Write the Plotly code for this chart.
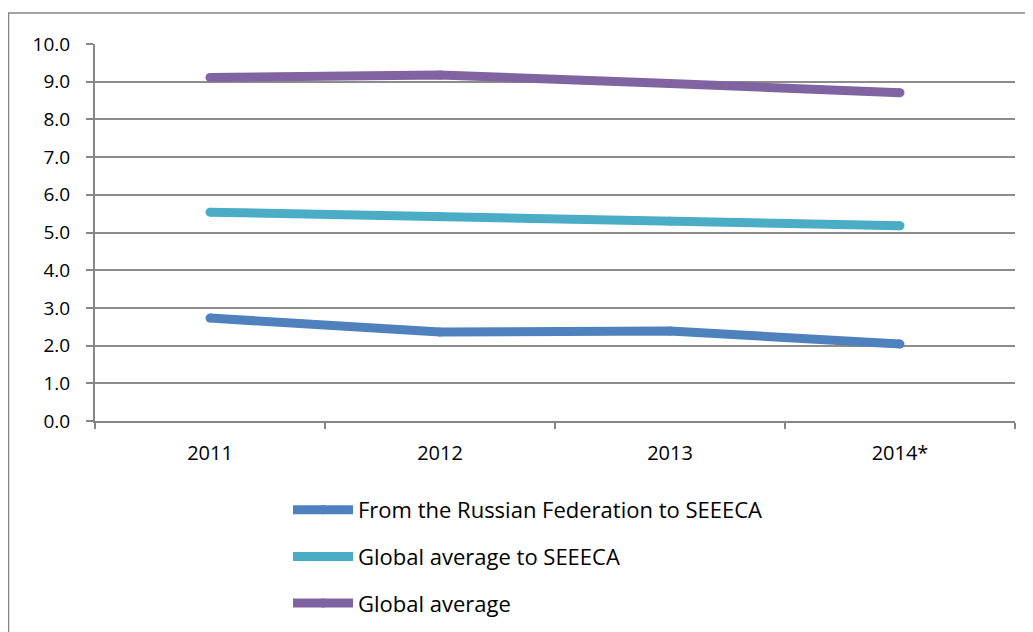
import plotly.graph_objects as go

categories = ["2011", "2012", "2013", "2014*"]
russia_to_seeeca = [2.73, 2.36, 2.39, 2.04]
global_to_seeeca = [5.54, 5.42, 5.30, 5.18]
global_average = [9.11, 9.18, 8.95, 8.71]
series_names = ["From the Russian Federation to SEEECA", "Global average to SEEECA", "Global average"]
series_colors = ["#4F81BD", "#4BACC6", "#8064A2"]
y_ticks = [0, 1, 2, 3, 4, 5, 6, 7, 8, 9, 10]

W, H = 1033, 632
OFF = 8  # page body margin
L, R, T, B = 87, 26, 36, 219
pw, ph = W - L - R, H - T - B

fig = go.Figure()
for name, vals, col in zip(series_names, [russia_to_seeeca, global_to_seeeca, global_average], series_colors):
    fig.add_trace(go.Scatter(
        x=categories, y=vals, name=name, mode="lines+markers",
        line=dict(color=col, width=9),
        marker=dict(color=col, size=9),
        legendgroup=name,
    ))

def px_x(p):
    return (p - OFF - L) / pw

def px_y(p):
    return 1 - (p - OFF - T) / ph

fig.add_shape(type="rect", xref="paper", yref="paper",
              x0=px_x(8.5), x1=px_x(1050), y0=px_y(650), y1=px_y(13),
              line=dict(color="#868686", width=1.5), fillcolor="rgba(0,0,0,0)", layer="below")

FAM = "Open Sans, Liberation Sans, sans-serif"
yfont = dict(family=FAM, size=19, color="#000000")
xfont = dict(family=FAM, size=20, color="#000000")
fig.update_layout(
    width=W, height=H,
    margin=dict(l=L, r=R, t=T, b=B, pad=0),
    paper_bgcolor="white", plot_bgcolor="white",
    font=yfont,
    showlegend=True,
    legend=dict(x=px_x(288), xanchor="left", y=px_y(489), yanchor="top",
                traceorder="grouped", tracegroupgap=15, itemwidth=60,
                font=dict(family=FAM, size=22, color="#000000"),
                bgcolor="rgba(0,0,0,0)"),
    xaxis=dict(type="category", range=[-0.5, 3.5], showgrid=False,
               showline=True, linecolor="#868686", linewidth=2,
               ticks="outside", tickson="boundaries", ticklen=6, tickcolor="#868686", tickwidth=2,
               tickfont=xfont, ticklabelstandoff=13),
    yaxis=dict(range=[0, 10], tickvals=y_ticks, tickformat=".1f",
               showgrid=True, gridcolor="#8C8C8C", gridwidth=1.5,
               showline=True, linecolor="#868686", linewidth=2,
               ticks="outside", ticklen=7, tickcolor="#868686", tickwidth=1.5,
               zeroline=False, tickfont=yfont, ticklabelstandoff=12),
)

fig.write_html("out.html")
